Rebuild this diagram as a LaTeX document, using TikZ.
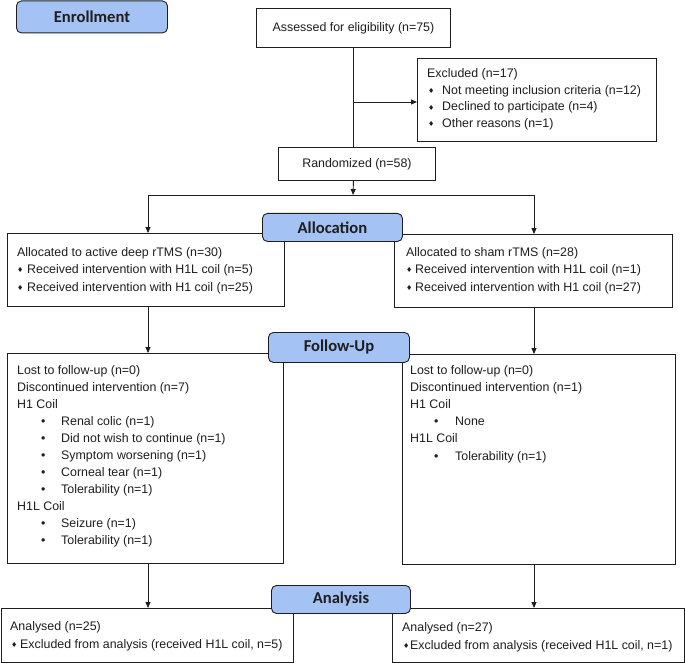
\documentclass[tikz,border=0pt]{standalone}
\usepackage{fontspec}
\setmainfont{Liberation Sans}
\newfontfamily\hdfont{Carlito}
\newfontfamily\symfont{DejaVu Sans}
\usetikzlibrary{arrows.meta}
\definecolor{stageblue}{HTML}{A4C2F4}
\definecolor{inkc}{HTML}{1E1E1E}
\newcommand{\dia}{\raisebox{0.6pt}{\symfont\fontsize{7}{7}\selectfont ♦}}
\newcommand{\bulA}{\hspace*{24pt}\makebox[20pt][l]{•}}
\newcommand{\bulB}{\hspace*{24pt}\makebox[21pt][l]{•}}
\begin{document}
\begin{tikzpicture}[x=1pt,y=-1pt,
  box/.style={draw=inkc, line width=0.9pt, fill=white, anchor=north west, inner sep=0pt, rectangle, font=\fontsize{12.4}{17}\selectfont, text=inkc},
  stage/.style={draw=inkc, line width=0.9pt, fill=stageblue, rounded corners=5pt, anchor=north west, inner sep=0pt, font=\hdfont\bfseries\fontsize{16.6}{18}\selectfont, text=inkc},
  txt/.style={anchor=base west, inner sep=0pt, text=inkc},
  conn/.style={line width=0.9pt, draw=inkc},
  arr/.style={conn, -{Triangle[length=6pt,width=5pt]}}]
\useasboundingbox (0,0) rectangle (685,663);

% content boxes
\node[box, minimum width=194pt, minimum height=39pt] (assess) at (256,8) {Assessed for eligibility (n=75)};
\node[box, minimum width=239pt, minimum height=83pt] (excl) at (417,58) {};
\node[box, minimum width=157pt, minimum height=33pt] (rand) at (278,147) {Randomized (n=58)};
\node[box, minimum width=277pt, minimum height=73pt] (allocL) at (7,233) {};
\node[box, minimum width=278pt, minimum height=73pt] (allocR) at (394,234) {};
\node[box, minimum width=276pt, minimum height=210pt] (fuL) at (7,353) {};
\node[box, minimum width=273pt, minimum height=210pt] (fuR) at (402,354) {};
\node[box, minimum width=292pt, minimum height=54pt] (anaL) at (1,608) {};
\node[box, minimum width=292pt, minimum height=54pt] (anaR) at (392,608) {};

% box texts
\node[txt, font=\fontsize{12.4}{16.5}\selectfont] (excltxt) at (427,78) {\begin{tabular}[t]{@{}l@{}}
Excluded (n=17)\\
\hspace*{1pt}\makebox[14pt][l]{\dia}Not meeting inclusion criteria (n=12)\\
\hspace*{1pt}\makebox[14pt][l]{\dia}Declined to participate (n=4)\\
\hspace*{1pt}\makebox[14pt][l]{\dia}Other reasons (n=1)
\end{tabular}};
\node[txt, font=\fontsize{12.4}{17.5}\selectfont] (allocLtxt) at (17,256) {\begin{tabular}[t]{@{}l@{}}
Allocated to active deep rTMS (n=30)\\
\makebox[10pt][l]{\dia}Received intervention with H1L coil (n=5)\\
\makebox[10pt][l]{\dia}Received intervention with H1 coil (n=25)
\end{tabular}};
\node[txt, font=\fontsize{12.4}{17.5}\selectfont] (allocRtxt) at (406,256) {\begin{tabular}[t]{@{}l@{}}
Allocated to sham rTMS (n=28)\\
\makebox[9pt][l]{\dia}Received intervention with H1L coil (n=1)\\
\makebox[9pt][l]{\dia}Received intervention with H1 coil (n=27)
\end{tabular}};
\node[txt, font=\fontsize{12.4}{17}\selectfont] (fuLtxt) at (17,374) {\begin{tabular}[t]{@{}l@{}}
Lost to follow-up (n=0)\\
Discontinued intervention (n=7)\\
H1 Coil\\
\bulA Renal colic (n=1)\\
\bulA Did not wish to continue (n=1)\\
\bulA Symptom worsening (n=1)\\
\bulA Corneal tear (n=1)\\
\bulA Tolerability (n=1)\\
H1L Coil\\
\bulA Seizure (n=1)\\
\bulA Tolerability (n=1)
\end{tabular}};
\node[txt, font=\fontsize{12.4}{17.2}\selectfont] (fuRtxt) at (410,374) {\begin{tabular}[t]{@{}l@{}}
Lost to follow-up (n=0)\\
Discontinued intervention (n=1)\\
H1 Coil\\
\bulB None\\
H1L Coil\\
\bulB Tolerability (n=1)
\end{tabular}};
\node[txt, font=\fontsize{12.4}{18}\selectfont] (anaLtxt) at (10,630) {\begin{tabular}[t]{@{}l@{}}
Analysed (n=25)\\
\hspace*{1pt}\makebox[9pt][l]{\dia}Excluded from analysis (received H1L coil, n=5)
\end{tabular}};
\node[txt, font=\fontsize{12.4}{18}\selectfont] (anaRtxt) at (402,631) {\begin{tabular}[t]{@{}l@{}}
Analysed (n=27)\\
\hspace*{1pt}\makebox[7pt][l]{\dia}Excluded from analysis (received H1L coil, n=1)
\end{tabular}};

% connectors
\coordinate (exbr) at (353,102);
\coordinate (split) at (353,195);
\coordinate (brL) at (148,195);
\coordinate (brR) at (534,195);
\draw[conn] (assess.south) -- (rand.north -| assess.south);
\draw[arr] (exbr) -- (exbr -| excl.west);
\draw[arr] (rand.south -| assess.south) -- (split);
\draw[conn] (brL) -- (brR);
\draw[arr] (brL) -- (allocL.north -| brL);
\draw[arr] (brR) -- (allocR.north -| brR);
\draw[arr] (allocL.south -| brL) -- (fuL.north -| brL);
\draw[arr] (allocR.south -| brR) -- (fuR.north -| brR);
\draw[arr] (fuL.south -| brL) -- (anaL.north -| brL);
\draw[arr] (fuR.south -| brR) -- (anaR.north -| brR);

% stage labels
\node[stage, minimum width=151pt, minimum height=32pt] (enroll) at (16,0.5) {Enrollment};
\node[stage, minimum width=140pt, minimum height=28pt] (allocation) at (262,213) {Allocation};
\node[stage, minimum width=141pt, minimum height=30pt] (followup) at (268,332) {Follow-Up};
\node[stage, minimum width=139pt, minimum height=28pt] (analysis) at (271,585) {Analysis};
\end{tikzpicture}
\end{document}
